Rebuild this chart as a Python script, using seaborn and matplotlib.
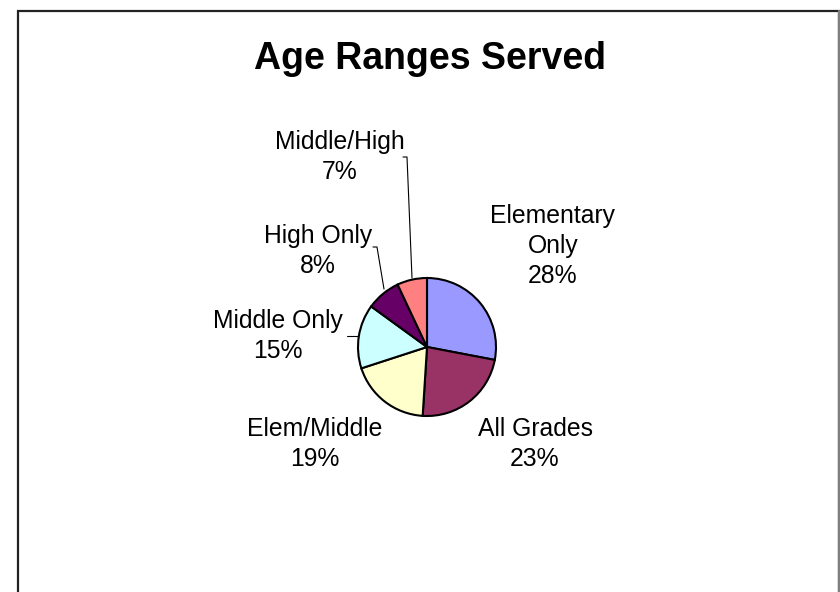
import matplotlib
matplotlib.use("Agg")
import matplotlib.pyplot as plt
import seaborn as sns
from matplotlib.patches import Rectangle
from matplotlib.lines import Line2D

# ---- data ----
categories = ["Elementary Only", "All Grades", "Elem/Middle", "Middle Only", "High Only", "Middle/High"]
label_text = ["Elementary\nOnly", "All Grades", "Elem/Middle", "Middle Only", "High Only", "Middle/High"]
values = [28, 23, 19, 15, 8, 7]
colors = ["#9999FF", "#993366", "#FFFFCC", "#CCFFFF", "#660066", "#FF8080"]
title = "Age Ranges Served"

# ---- layout (pixel coordinates, y from top) ----
W, H = 840, 592
label_pos = [(553, 246), (535, 444), (315, 444), (278, 336), (318, 251), (340, 157)]
leaders = [
    [(403, 157), (407, 157), (412, 278)],
    [(373, 247), (377, 247), (384, 289)],
    [(347, 336), (358, 336)],
]

sns.set_theme(style="white")
plt.rcParams["font.family"] = ["Liberation Sans", "DejaVu Sans"]

fig = plt.figure(figsize=(W / 100, H / 100), dpi=100)
ax = fig.add_axes([0, 0, 1, 1])

def Y(y):
    return H - y

# pie
ax.pie(values, colors=colors, startangle=90, counterclock=False,
       center=(427, Y(347)), radius=69, frame=True,
       wedgeprops=dict(edgecolor="black", linewidth=1.5))
ax.set_xlim(0, W)
ax.set_ylim(0, H)
ax.set_aspect("equal")
ax.axis("off")

# frame
ax.add_patch(Rectangle((17.5, Y(700)), 821.5, 700 - 11, fill=False,
                       edgecolor="#222222", linewidth=1.6, zorder=1))
ax.plot([839, 839], [Y(11), Y(600)], color="#808080", linewidth=1.6, zorder=2)

# labels
for txt, v, (x, y) in zip(label_text, values, label_pos):
    ax.text(x, Y(y), f"{txt}\n{v}%", ha="center", va="center",
            fontsize=17.8, linespacing=1.34, color="black")

# leader lines
for pts in leaders:
    xs = [p[0] for p in pts]
    ys = [Y(p[1]) for p in pts]
    ax.add_line(Line2D(xs, ys, color="black", linewidth=0.8))

# title
ax.text(429.5, Y(69), title, ha="center", va="baseline",
        fontsize=27, fontweight="bold", color="black")

fig.savefig("out.png", dpi=100, facecolor="white")
